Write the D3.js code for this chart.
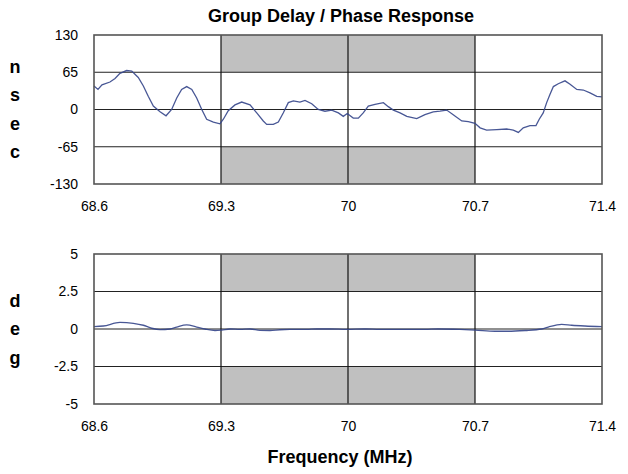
<!DOCTYPE html>
<html>
<head>
<meta charset="utf-8">
<script src="https://cdn.jsdelivr.net/npm/d3@7"></script>
<style>
  body { margin: 0; background: #fff; }
  svg { display: block; }
  .tick text { font-family: "Liberation Sans", Arial, sans-serif; font-size: 14px; fill: #000; }
  .ttl { font-family: "Liberation Sans", Arial, sans-serif; font-weight: bold; font-size: 18px; fill: #000; }
</style>
</head>
<body>
<div id="chart"></div>
<script>
// x axis (MHz)
var freqTicks = [68.6, 69.3, 70, 70.7, 71.4];
var passBand = [69.3, 70.7];

// group delay, nsec
var delayTicks = [-130, -65, 0, 65, 130];
var delayFreq = [68.600, 68.622, 68.644, 68.688, 68.716, 68.743, 68.780, 68.808, 68.844, 68.872,
	68.899, 68.927, 68.964, 68.997, 69.028, 69.056, 69.083, 69.111, 69.139, 69.166,
	69.194, 69.221, 69.258, 69.294, 69.313, 69.340, 69.377, 69.414, 69.460, 69.497,
	69.533, 69.552, 69.588, 69.616, 69.643, 69.671, 69.699, 69.735, 69.763, 69.800,
	69.836, 69.873, 69.910, 69.947, 69.974, 69.996, 70.029, 70.057, 70.084, 70.112,
	70.149, 70.195, 70.222, 70.250, 70.287, 70.324, 70.379, 70.424, 70.470, 70.507,
	70.544, 70.580, 70.627, 70.663, 70.700, 70.728, 70.764, 70.820, 70.875, 70.911,
	70.939, 70.966, 71.003, 71.036, 71.054, 71.076, 71.095, 71.113, 71.132, 71.159,
	71.196, 71.224, 71.261, 71.297, 71.334, 71.371, 71.400];
var delayVals = [41, 35, 43, 48, 54, 63, 68, 67, 56, 41,
	23, 6, -4, -11, 0, 20, 35, 40, 35, 20,
	0, -17, -22, -25, -17, -2, 8, 13, 8, -6,
	-20, -26, -26, -22, -6, 12, 15, 13, 16, 10,
	0, -3, -1, -6, -12, -7, -15, -15, -6, 6,
	9, 12, 5, -1, -6, -12, -16, -9, -4, -3,
	-1, -9, -20, -21, -24, -32, -36, -35, -34, -36,
	-40, -32, -28, -28, -17, -6, 12, 26, 40, 45,
	50, 44, 35, 34, 29, 23, 22];

// phase, deg
var phaseTicks = [-5, -2.5, 0, 2.5, 5];
var phaseFreq = [68.600, 68.651, 68.743, 68.817, 68.872, 68.918, 68.964, 69.019, 69.056, 69.111,
	69.166, 69.212, 69.267, 69.304, 69.350, 69.405, 69.460, 69.515, 69.570, 69.625,
	69.680, 69.772, 69.827, 69.901, 69.993, 70.094, 70.176, 70.276, 70.424, 70.496,
	70.617, 70.700, 70.810, 70.882, 70.976, 71.068, 71.104, 71.178, 71.233, 71.306, 71.400];
var phaseVals = [0.16, 0.2, 0.44, 0.38, 0.25, 0.05, -0.04, 0, 0.13, 0.27,
	0.13, 0, -0.1, -0.07, 0, -0.03, 0, -0.09, -0.1, -0.05,
	-0.03, -0.03, 0, 0, -0.03, 0, -0.03, -0.03, -0.03, 0,
	-0.03, -0.07, -0.15, -0.15, -0.1, 0, 0.13, 0.31, 0.25, 0.2, 0.16];

var W = 628, H = 474;
var left = 94, right = 602;

var svg = d3.select("#chart").append("svg")
	.attr("width", W)
	.attr("height", H);

var x = d3.scaleLinear().domain([68.6, 71.4]).range([left, right]);

function drawPanel(top, bottom, ticks, freqs, vals, unit, curve) {
	var y = d3.scaleLinear().domain([ticks[0], ticks[ticks.length - 1]]).range([bottom, top]);
	var g = svg.append("g");

	// gray bands in passband, outer rows
	var bands = [[ticks[ticks.length - 2], ticks[ticks.length - 1]], [ticks[0], ticks[1]]];
	g.selectAll("rect.band")
		.data(bands)
		.enter().append("rect")
		.attr("class", "band")
		.attr("x", x(passBand[0]))
		.attr("width", x(passBand[1]) - x(passBand[0]))
		.attr("y", function(d) { return y(d[1]); })
		.attr("height", function(d) { return y(d[0]) - y(d[1]); })
		.attr("fill", "#c0c0c0");

	// grid
	g.selectAll("line.hg")
		.data(ticks.slice(1, -1))
		.enter().append("line")
		.attr("x1", left).attr("x2", right)
		.attr("y1", function(d) { return y(d); })
		.attr("y2", function(d) { return y(d); })
		.attr("stroke", "#222").attr("stroke-width", 1.2);
	g.selectAll("line.vg")
		.data(freqTicks.slice(1, -1))
		.enter().append("line")
		.attr("x1", function(d) { return x(d); })
		.attr("x2", function(d) { return x(d); })
		.attr("y1", top).attr("y2", bottom)
		.attr("stroke", "#111").attr("stroke-width", 1.2);

	// series
	var line = d3.line()
		.x(function(d) { return x(d[0]); })
		.y(function(d) { return y(d[1]); })
		.curve(curve);
	g.append("path")
		.datum(freqs.map(function(f, i) { return [f, vals[i]]; }))
		.attr("d", line)
		.attr("fill", "none")
		.attr("stroke", "#34458a")
		.attr("stroke-width", 1.3)
		.attr("stroke-opacity", 0.9);

	// frame
	g.append("rect")
		.attr("x", left).attr("y", top)
		.attr("width", right - left).attr("height", bottom - top)
		.attr("fill", "none")
		.attr("stroke", "#555").attr("stroke-width", 1.6);

	// axes (labels only)
	g.append("g")
		.attr("transform", "translate(" + left + ",0)")
		.call(d3.axisLeft(y).tickValues(ticks).tickSize(0).tickPadding(16)
			.tickFormat(function(d) { return String(d); }))
		.call(function(a) { a.select(".domain").remove(); });
	g.append("g")
		.attr("transform", "translate(0," + bottom + ")")
		.call(d3.axisBottom(x).tickValues(freqTicks).tickSize(0).tickPadding(17)
			.tickFormat(function(d) { return String(d); }))
		.call(function(a) { a.select(".domain").remove(); });

	// stacked unit letters
	var mid = (top + bottom) / 2;
	var step = 28.5;
	g.selectAll("text.unit")
		.data(unit.split(""))
		.enter().append("text")
		.attr("class", "ttl")
		.attr("x", 15)
		.attr("y", function(d, i) { return mid + 6 + (i - (unit.length - 1) / 2) * step; })
		.attr("text-anchor", "middle")
		.text(function(d) { return d; });
}

drawPanel(35, 184, delayTicks, delayFreq, delayVals, "nsec", d3.curveLinear);
drawPanel(254, 404, phaseTicks, phaseFreq, phaseVals, "deg", d3.curveMonotoneX);

svg.append("text")
	.attr("class", "ttl")
	.attr("x", 341).attr("y", 22)
	.attr("text-anchor", "middle")
	.text("Group Delay / Phase Response");

svg.append("text")
	.attr("class", "ttl")
	.attr("x", 340).attr("y", 463)
	.attr("text-anchor", "middle")
	.text("Frequency (MHz)");
</script>
</body>
</html>
